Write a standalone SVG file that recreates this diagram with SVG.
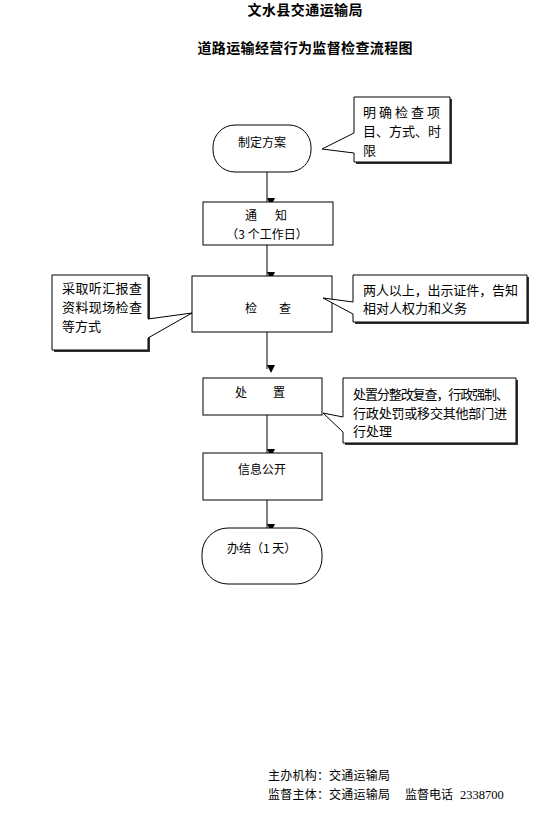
<svg xmlns="http://www.w3.org/2000/svg" width="556" height="826" viewBox="0 0 556 826">
<defs>
<style>
.t{font-family:"Noto Sans CJK SC","Liberation Sans",sans-serif;font-size:12px;fill:#000}
.c{font-family:"Noto Sans CJK SC","Liberation Sans",sans-serif;font-size:13px;fill:#000}
.h{font-family:"Noto Sans CJK SC","Liberation Sans",sans-serif;font-size:14px;font-weight:bold;fill:#000}
.box{fill:#fff;stroke:#000;stroke-width:1}
.co{fill:#fff;stroke:#000;stroke-width:1}
.sh{fill:#333;stroke:none}
.ln{stroke:#000;stroke-width:1;fill:none;marker-end:url(#ah)}
</style>
<marker id="ah" viewBox="0 0 8 8" refX="4" refY="8" markerWidth="8" markerHeight="8" markerUnits="userSpaceOnUse" orient="auto-start-reverse">
<path d="M0,0 L8,0 L4,8 Z" fill="#000" transform="rotate(-90 4 4)"/>
</marker>
</defs>
<rect width="556" height="826" fill="#fff"/>
<g id="titles">
<text class="h" x="305" y="15" text-anchor="middle" textLength="115" lengthAdjust="spacing">文水县交通运输局</text>
<text class="h" x="305" y="53" text-anchor="middle" textLength="215" lengthAdjust="spacing">道路运输经营行为监督检查流程图</text>
</g>
<g id="connectors">
<line class="ln" x1="267" y1="172" x2="267" y2="202"/>
<line class="ln" x1="267" y1="245" x2="267" y2="276"/>
<line class="ln" x1="267" y1="332" x2="267" y2="369"/>
<line class="ln" x1="267" y1="415" x2="267" y2="453"/>
<line class="ln" x1="267" y1="500" x2="267" y2="528"/>
</g>
<g id="n-start">
<rect class="box" x="213" y="125" width="98" height="47" rx="22" ry="22"/>
<text class="t" x="262" y="147" text-anchor="middle">制定方案</text>
</g>
<g id="n-notify">
<rect class="box" x="203" y="202" width="130" height="43"/>
<text class="t" x="245" y="220">通</text>
<text class="t" x="275" y="220">知</text>
<text class="t" x="267" y="239" text-anchor="middle">（3 个工作日）</text>
</g>
<g id="n-check">
<rect class="box" x="192" y="276" width="140" height="56"/>
<text class="t" x="245" y="313">检</text>
<text class="t" x="279" y="313">查</text>
</g>
<g id="n-handle">
<rect class="box" x="203" y="378" width="119" height="37"/>
<text class="t" x="235" y="397">处</text>
<text class="t" x="273" y="397">置</text>
</g>
<g id="n-public">
<rect class="box" x="203" y="453" width="119" height="47"/>
<text class="t" x="238" y="474">信息公开</text>
</g>
<g id="n-end">
<rect class="box" x="202" y="528" width="120" height="56" rx="26" ry="26"/>
<text class="t" x="227" y="553">办结（1 天）</text>
</g>
<g id="c-plan">
<rect class="sh" x="356" y="99" width="96" height="65"/>
<path class="co" d="M354,97 H450 V162 H354 V153 L322,149 L354,133 Z"/>
<text class="c" x="363" y="117" textLength="77" lengthAdjust="spacing">明 确 检 查 项</text>
<text class="c" x="363" y="136" textLength="78" lengthAdjust="spacing">目、方式、时</text>
<text class="c" x="363" y="155">限</text>
</g>
<g id="c-method">
<rect class="sh" x="54" y="277" width="96" height="75"/>
<path class="co" d="M52,275 H148 V319 L192,313 L148,338 V350 H52 Z"/>
<text class="c" x="62" y="293" textLength="80" lengthAdjust="spacing">采取听汇报查</text>
<text class="c" x="62" y="312" textLength="80" lengthAdjust="spacing">资料现场检查</text>
<text class="c" x="62" y="331">等方式</text>
</g>
<g id="c-people">
<rect class="sh" x="355" y="277" width="174" height="47"/>
<path class="co" d="M353,275 H527 V322 H353 V314 L323,298 L353,302 Z"/>
<text class="c" x="363" y="295" textLength="155" lengthAdjust="spacing">两人以上，出示证件，告知</text>
<text class="c" x="363" y="313">相对人权力和义务</text>
</g>
<g id="c-handle">
<rect class="sh" x="345" y="380" width="173" height="65"/>
<path class="co" d="M343,378 H516 V443 H343 V432 L323,413 L343,417 Z"/>
<text class="c" x="353" y="399" textLength="156" lengthAdjust="spacing">处置分整改复查，行政强制、</text>
<text class="c" x="353" y="418" textLength="154" lengthAdjust="spacing">行政处罚或移交其他部门进</text>
<text class="c" x="353" y="436">行处理</text>
</g>
<g id="footer">
<text class="t" x="268" y="780" textLength="122" lengthAdjust="spacing">主办机构：交通运输局</text>
<text class="t" x="268" y="799" textLength="122" lengthAdjust="spacing">监督主体：交通运输局</text>
<text class="t" x="405" y="799">监督电话</text>
<text x="460" y="799" font-family="Liberation Serif, serif" font-size="12.5" fill="#000">2338700</text>
</g>
</svg>
